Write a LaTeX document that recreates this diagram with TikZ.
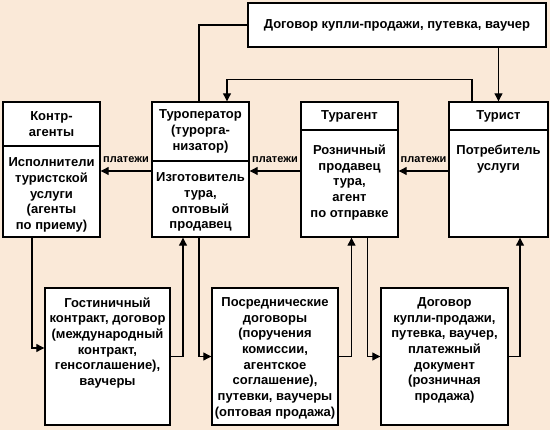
\documentclass[tikz,border=0pt]{standalone}
\usepackage{fontspec}
\setmainfont{Liberation Sans}
\usetikzlibrary{arrows.meta,positioning,calc}
\definecolor{paper}{RGB}{250,233,216}

\begin{document}
\begin{tikzpicture}[x=1pt,y=-1pt,
  box/.style={draw,fill=white,line width=1.4pt,inner sep=0pt},
  hd/.style={draw,line width=1.4pt,align=center,inner sep=0pt,anchor=north,
    font=\bfseries\fontsize{13}{15.7}\selectfont},
  txt/.style={align=center,inner sep=0pt,anchor=north,
    font=\bfseries\fontsize{13}{15.7}\selectfont},
  ar/.style={-{Triangle[length=8pt,width=8pt]},line width=1.1pt},
  ln/.style={line width=1.1pt},
  pay/.style={above=8pt,inner sep=0pt,font=\bfseries\fontsize{11}{13}\selectfont}]

  \fill[paper] (0,0) rectangle (550,430);
  \useasboundingbox (0,0) rectangle (550,430);

  % contract for the tourist
  \node[box,minimum width=298,minimum height=44,
    font=\bfseries\fontsize{13}{15.7}\selectfont] (deal) at (397,25)
    {Договор купли-продажи, путевка, ваучер};

  % participants
  \node[box,minimum width=97,minimum height=135] (kontr) at (51.5,169.5) {};
  \node[hd,minimum width=97,minimum height=44] (kontrH) at (kontr.north) {Контр-\\агенты};
  \node[txt] (kontrT) at ([yshift=-11pt]kontrH.south)
    {Исполнители\\туристской\\услуги\\(агенты\\по приему)};

  \node[box,minimum width=97,minimum height=135] (tourop) at (200.5,169.5) {};
  \node[hd,minimum width=97,minimum height=59] (touropH) at (tourop.north)
    {Туроператор\\(турорга-\\низатор)};
  \node[txt] (touropT) at ([yshift=-11pt]touropH.south)
    {Изготовитель\\тура,\\оптовый\\продавец};

  \node[box,minimum width=97,minimum height=135] (tagent) at (349.5,169.5) {};
  \node[hd,minimum width=97,minimum height=28] (tagentH) at (tagent.north) {Турагент};
  \node[txt] (tagentT) at ([yshift=-14pt]tagentH.south)
    {Розничный\\продавец\\тура,\\агент\\по отправке};

  \node[box,minimum width=99,minimum height=135] (tourist) at (498.5,169.5) {};
  \node[hd,minimum width=99,minimum height=28] (touristH) at (tourist.north) {Турист};
  \node[txt] (touristT) at ([yshift=-14pt]touristH.south)
    {Потребитель\\услуги};

  % documents
  \node[box,minimum width=125,minimum height=137] (hotel) at (107.5,356.5) {};
  \node[txt] (hotelT) at ([yshift=-10pt]hotel.north)
    {Гостиничный\\контракт, договор\\(международный\\контракт,\\генсоглашение),\\ваучеры};

  \node[box,minimum width=126,minimum height=137] (posred) at (275,356.5) {};
  \node[txt] (posredT) at ([yshift=-10pt]posred.north)
    {Посреднические\\договоры\\(поручения\\комиссии,\\агентское\\соглашение),\\путевки, ваучеры\\(оптовая продажа)};

  \node[box,minimum width=127,minimum height=137] (retail) at (444.5,356.5) {};
  \node[txt] (retailT) at ([yshift=-10pt]retail.north)
    {Договор\\купли-продажи,\\путевка, ваучер,\\платежный\\документ\\(розничная\\продажа)};

  % payments
  \draw[ar] ([yshift=-1.5pt]tourop.west) -- node[pay] {платежи} ([yshift=-1.5pt]kontr.east);
  \draw[ar] ([yshift=-1.5pt]tagent.west) -- node[pay] {платежи} ([yshift=-1.5pt]tourop.east);
  \draw[ar] ([yshift=-1.5pt]tourist.west) -- node[pay] {платежи} ([yshift=-1.5pt]tagent.east);

  % upper links
  \draw[ln] (deal.west) -| ([xshift=-1.5pt]tourop.north);
  \draw[ar] ([xshift=-26.5pt]tourist.north) -- ++(0,-22) -| ([xshift=26.5pt]tourop.north);
  \draw[ar] (tourist.north |- deal.south) -- (tourist.north);

  % lower links
  \draw[ar] ([xshift=-19.5pt]kontr.south) |- ([yshift=8.5pt]hotel.west);
  \draw[ar] (hotel.east) -| ([xshift=-17.5pt]tourop.south);
  \draw[ar] ([xshift=-1.5pt]tourop.south) |- (posred.west);
  \draw[ar] (posred.east) -| ([xshift=2pt]tagent.south);
  \draw[ar] ([xshift=18pt]tagent.south) |- (retail.west);
  \draw[ar] (retail.east) -| ([xshift=21.5pt]tourist.south);
\end{tikzpicture}
\end{document}
